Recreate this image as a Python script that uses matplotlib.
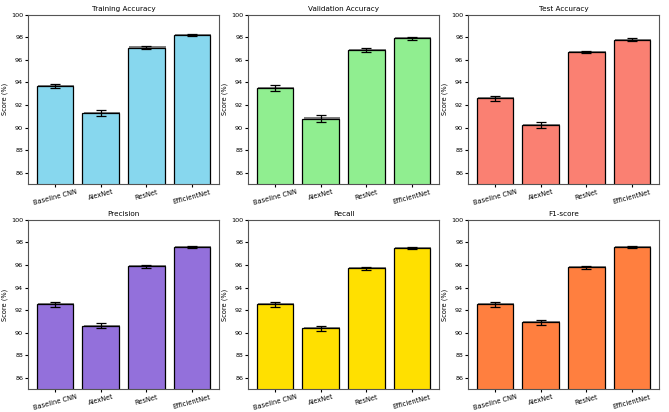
import numpy as np
import matplotlib
matplotlib.use('Agg')
import matplotlib.pyplot as plt
import matplotlib.patheffects as pe

models = ['Baseline CNN', 'AlexNet', 'ResNet', 'EfficientNet']
metric_names = ['Training Accuracy', 'Validation Accuracy', 'Test Accuracy',
                'Precision', 'Recall', 'F1-score']

train_acc = [93.7, 91.3, 97.1, 98.2]
train_err = [0.20, 0.25, 0.15, 0.12]
val_acc = [93.5, 90.8, 96.9, 97.9]
val_err = [0.25, 0.28, 0.18, 0.13]
test_acc = [92.6, 90.2, 96.7, 97.8]
test_err = [0.22, 0.28, 0.13, 0.12]
precision = [92.5, 90.6, 95.9, 97.6]
precision_err = [0.20, 0.22, 0.14, 0.12]
recall = [92.5, 90.4, 95.7, 97.5]
recall_err = [0.20, 0.22, 0.15, 0.12]
f1 = [92.5, 90.9, 95.8, 97.6]
f1_err = [0.20, 0.22, 0.14, 0.10]

values = [train_acc, val_acc, test_acc, precision, recall, f1]
errors = [train_err, val_err, test_err, precision_err, recall_err, f1_err]
colors = ['#87d7ee', '#90ee90', '#fa8072', '#9370db', '#ffe000', '#ff7f3f']

fig, axes = plt.subplots(2, 3, figsize=(6.69, 4.12), dpi=100)
plt.subplots_adjust(left=0.042, right=0.985, top=0.964, bottom=0.056,
                    wspace=0.152, hspace=0.213)

shadow = [pe.SimplePatchShadow(offset=(0.8, 0.8), shadow_rgbFace='#808080', alpha=1.0),
          pe.Normal()]

for i, ax in enumerate(axes.flat):
    x = np.arange(len(models))
    bars = ax.bar(x, values[i], yerr=errors[i], color=colors[i], edgecolor='black',
                  linewidth=0.9, width=0.8, capsize=3.5,
                  error_kw={'elinewidth': 0.9, 'capthick': 0.9})
    for b in bars:
        b.set_path_effects(shadow)
    ax.set_title(metric_names[i], fontsize=5.2, pad=2.5)
    ax.set_ylim(85, 100)
    ax.set_yticks([86, 88, 90, 92, 94, 96, 98, 100])
    ax.set_xticks(x)
    ax.set_xticklabels(models, rotation=15, fontsize=4.8)
    ax.tick_params(axis='y', labelsize=4.6, length=2, pad=1.5)
    ax.tick_params(axis='x', length=2, pad=1.5)
    ax.set_ylabel('Score (%)', fontsize=4.8, labelpad=2)
    for s in ax.spines.values():
        s.set_linewidth(0.8)
        s.set_color('#555555')

plt.savefig('out.png', dpi=100)
